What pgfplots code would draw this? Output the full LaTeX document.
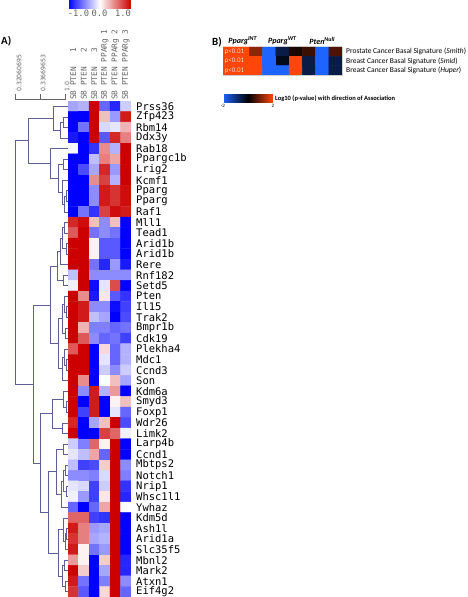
\documentclass[border=0pt]{standalone}
\usepackage{pgfplots}
\pgfplotsset{compat=1.18}
\usepackage{fontspec}
\setmainfont{Carlito}
\setmonofont{DejaVu Sans Mono}
\newfontfamily\dvs{DejaVu Sans}
\definecolor{dendro}{RGB}{95,95,145}
\definecolor{lblgray}{RGB}{100,100,100}
\begin{document}
\begin{tikzpicture}[x=1pt,y=1pt]
\useasboundingbox (0,0) rectangle (468,597);
% ---------------- dendrogram ----------------
\begin{axis}[at={(15pt,0pt)}, anchor=south west, scale only axis, width=53pt, height=496pt,
  xmin=15, xmax=68, ymin=0.5, ymax=47.5, y dir=reverse, hide axis, clip=false,
  dd/.style={dendro, line width=0.6pt, mark=none}]
\addplot[dd] coordinates {(68,2)(63,2)(63,3)(68,3)};
\addplot[dd] coordinates {(63,2.5)(60,2.5)(60,4)(68,4)};
\addplot[dd] coordinates {(68,1)(53,1)(53,3.25)(60,3.25)};
\addplot[dd] coordinates {(68,9)(66,9)(66,10)(68,10)};
\addplot[dd] coordinates {(66,9.5)(64,9.5)(64,11)(68,11)};
\addplot[dd] coordinates {(68,8)(62,8)(62,10.25)(64,10.25)};
\addplot[dd] coordinates {(68,6)(63,6)(63,7)(68,7)};
\addplot[dd] coordinates {(63,6.5)(58,6.5)(58,9.125)(62,9.125)};
\addplot[dd] coordinates {(68,5)(50,5)(50,7.81)(58,7.81)};
\addplot[dd] coordinates {(53,2.125)(28,2.125)(28,6.405)(50,6.405)};
\addplot[dd] coordinates {(68,14)(66,14)(66,15)(68,15)};
\addplot[dd] coordinates {(68,12)(64,12)(64,13)(68,13)};
\addplot[dd] coordinates {(64,12.5)(62,12.5)(62,14.5)(66,14.5)};
\addplot[dd] coordinates {(62,13.5)(60,13.5)(60,16)(68,16)};
\addplot[dd] coordinates {(68,17)(63,17)(63,18)(68,18)};
\addplot[dd] coordinates {(60,14.75)(57,14.75)(57,17.5)(63,17.5)};
\addplot[dd] coordinates {(68,20)(66,20)(66,21)(68,21)};
\addplot[dd] coordinates {(68,19)(64,19)(64,20.5)(66,20.5)};
\addplot[dd] coordinates {(68,22)(65,22)(65,23)(68,23)};
\addplot[dd] coordinates {(64,19.75)(62,19.75)(62,22.5)(65,22.5)};
\addplot[dd] coordinates {(68,25)(66,25)(66,26)(68,26)};
\addplot[dd] coordinates {(68,24)(64,24)(64,25.5)(66,25.5)};
\addplot[dd] coordinates {(64,24.75)(62,24.75)(62,27)(68,27)};
\addplot[dd] coordinates {(62,21.125)(58,21.125)(58,25.875)(62,25.875)};
\addplot[dd] coordinates {(57,16.125)(50,16.125)(50,23.5)(58,23.5)};
\addplot[dd] coordinates {(68,29)(66,29)(66,30)(68,30)};
\addplot[dd] coordinates {(68,28)(63,28)(63,29.5)(66,29.5)};
\addplot[dd] coordinates {(68,31)(62,31)(62,32)(68,32)};
\addplot[dd] coordinates {(63,28.75)(52,28.75)(52,31.5)(62,31.5)};
\addplot[dd] coordinates {(68,33)(63,33)(63,34)(68,34)};
\addplot[dd] coordinates {(68,35)(65,35)(65,36)(68,36)};
\addplot[dd] coordinates {(68,37)(66,37)(66,38)(68,38)};
\addplot[dd] coordinates {(65,35.5)(63,35.5)(63,37.5)(66,37.5)};
\addplot[dd] coordinates {(63,36.5)(61,36.5)(61,39)(68,39)};
\addplot[dd] coordinates {(63,33.5)(56,33.5)(56,37.75)(61,37.75)};
\addplot[dd] coordinates {(68,41)(66,41)(66,42)(68,42)};
\addplot[dd] coordinates {(66,41.5)(65,41.5)(65,43)(68,43)};
\addplot[dd] coordinates {(68,40)(63,40)(63,42.25)(65,42.25)};
\addplot[dd] coordinates {(68,44)(64,44)(64,45)(68,45)};
\addplot[dd] coordinates {(68,46)(65,46)(65,47)(68,47)};
\addplot[dd] coordinates {(64,44.5)(62,44.5)(62,46.5)(65,46.5)};
\addplot[dd] coordinates {(63,41.125)(58,41.125)(58,45.5)(62,45.5)};
\addplot[dd] coordinates {(56,35.625)(48,35.625)(48,43.3125)(58,43.3125)};
\addplot[dd] coordinates {(52,30.125)(40,30.125)(40,39.47)(48,39.47)};
\addplot[dd] coordinates {(50,19.8125)(33,19.8125)(33,34.8)(40,34.8)};
\addplot[dd] coordinates {(28,4.265)(15.7,4.265)(15.7,27.3)(33,27.3)};
% scale bar
\addplot[lblgray, line width=0.5pt, mark=none] coordinates {(15.7,-0.16)(15.7,0.31)(65.5,0.31)(65.5,-0.16)};
\addplot[lblgray, line width=0.5pt, mark=none] coordinates {(40.5,0.31)(40.5,-0.16)};
\node[rotate=90, anchor=west, inner sep=0pt, text=lblgray, font=\dvs\fontsize{6.2}{6}\selectfont] at (axis cs:19,-0.35) {0.32060695};
\node[rotate=90, anchor=west, inner sep=0pt, text=lblgray, font=\dvs\fontsize{6.2}{6}\selectfont] at (axis cs:43,-0.35) {0.33669653};
\node[rotate=90, anchor=west, inner sep=0pt, text=lblgray, font=\dvs\fontsize{6.2}{6}\selectfont] at (axis cs:67,-0.35) {1.0};
\end{axis}
% ---------------- heatmap A ----------------
\begin{axis}[at={(68pt,0pt)}, anchor=south west, scale only axis, width=63pt, height=496pt,
  xmin=-0.5, xmax=5.5, ymin=0.5, ymax=47.5, y dir=reverse, enlargelimits=false,
  axis line style={draw=none}, major tick length=0pt,
  colormap={rwb}{rgb255=(0,0,255) rgb255=(255,255,255) rgb255=(204,0,0)},
  point meta min=-1, point meta max=1,
  xtick={0,...,5}, xticklabel pos=upper,
  xticklabels={SB PTEN\ \ \ 1,SB PTEN\ \ \ 2,SB PTEN\ \ \ 3,SB PTEN PPARg 1,SB PTEN PPARg 2,SB PTEN PPARg 3},
  xticklabel style={rotate=90, anchor=west, font=\ttfamily\fontsize{7.8}{8}\selectfont, text=lblgray, inner sep=1pt},
  ytick={1,...,47}, yticklabel pos=right,
  yticklabels={Prss36,Zfp423,Rbm14,Ddx3y,Rab18,Ppargc1b,Lrig2,Kcmf1,Pparg,Pparg,Raf1,Mll1,Tead1,Arid1b,Arid1b,Rere,Rnf182,Setd5,Pten,Il15,Trak2,Bmpr1b,Cdk19,Plekha4,Mdc1,Ccnd3,Son,Kdm6a,Smyd3,Foxp1,Wdr26,Limk2,Larp4b,Ccnd1,Mbtps2,Notch1,Nrip1,Whsc1l1,Ywhaz,Kdm5d,Ash1l,Arid1a,Slc35f5,Mbnl2,Mark2,Atxn1,Eif4g2},
  yticklabel style={anchor=west, inner sep=0pt, xshift=5pt, font=\ttfamily\fontsize{10.5}{10.5}\selectfont},
  colorbar horizontal,
  colorbar style={at={(0,1.1855)}, anchor=south west, width=63pt, height=8pt, scale only axis,
    axis line style={draw=none}, major tick length=0pt, xtick={-0.667,0,0.746}, xticklabels={-1.0,0.0,1.0},
    xticklabel pos=lower,
    xticklabel style={font=\ttfamily\fontsize{8.8}{9}\selectfont, text=lblgray, inner sep=1pt}},
]
\addplot[matrix plot*, mesh/cols=6, point meta=explicit] coordinates {
(0,1)[-0.35] (1,1)[-0.3] (2,1)[1] (3,1)[-0.6] (4,1)[-0.85] (5,1)[-0.2]
(0,2)[-1] (1,2)[-1] (2,2)[1] (3,2)[0.25] (4,2)[-0.4] (5,2)[0.9]
(0,3)[-1] (1,3)[-0.55] (2,3)[1] (3,3)[-0.15] (4,3)[-0.1] (5,3)[0.3]
(0,4)[-0.9] (1,4)[-1] (2,4)[1] (3,4)[-0.65] (4,4)[0.85] (5,4)[0.5]
(0,5)[-0.03] (1,5)[-1] (2,5)[-0.8] (3,5)[0.45] (4,5)[-0.3] (5,5)[1]
(0,6)[-1] (1,6)[-1] (2,6)[-0.25] (3,6)[0.5] (4,6)[0.35] (5,6)[1]
(0,7)[-1] (1,7)[-0.7] (2,7)[-0.35] (3,7)[0.85] (4,7)[-0.4] (5,7)[1]
(0,8)[-1] (1,8)[-1] (2,8)[0.45] (3,8)[0.75] (4,8)[-0.3] (5,8)[1]
(0,9)[-1] (1,9)[-1] (2,9)[-0.45] (3,9)[0.9] (4,9)[0.8] (5,9)[0.95]
(0,10)[-1] (1,10)[-1] (2,10)[-0.45] (3,10)[0.9] (4,10)[0.8] (5,10)[0.95]
(0,11)[-1] (1,11)[-0.55] (2,11)[-0.8] (3,11)[0.75] (4,11)[0.95] (5,11)[0.9]
(0,12)[0.85] (1,12)[0.95] (2,12)[0.25] (3,12)[-0.45] (4,12)[0.25] (5,12)[-1]
(0,13)[0.65] (1,13)[1] (2,13)[-0.55] (3,13)[-0.45] (4,13)[-0.55] (5,13)[-1]
(0,14)[1] (1,14)[1] (2,14)[0.05] (3,14)[-0.65] (4,14)[-0.65] (5,14)[-1]
(0,15)[1] (1,15)[1] (2,15)[0.05] (3,15)[-0.65] (4,15)[-0.65] (5,15)[-1]
(0,16)[1] (1,16)[1] (2,16)[-0.55] (3,16)[-0.85] (4,16)[-0.4] (5,16)[-0.9]
(0,17)[-0.25] (1,17)[1] (2,17)[-0.45] (3,17)[-0.45] (4,17)[-0.45] (5,17)[-0.45]
(0,18)[-0.05] (1,18)[1] (2,18)[-0.95] (3,18)[-0.1] (4,18)[0.7] (5,18)[-1]
(0,19)[1] (1,19)[0.45] (2,19)[-0.9] (3,19)[0.1] (4,19)[-0.65] (5,19)[-0.8]
(0,20)[1] (1,20)[0.9] (2,20)[-0.45] (3,20)[-0.45] (4,20)[-0.95] (5,20)[-0.75]
(0,21)[1] (1,21)[0.9] (2,21)[-0.25] (3,21)[-0.35] (4,21)[-1] (5,21)[-0.7]
(0,22)[1] (1,22)[0.3] (2,22)[-0.5] (3,22)[-0.5] (4,22)[-0.6] (5,22)[-0.55]
(0,23)[1] (1,23)[0.65] (2,23)[-0.45] (3,23)[-0.6] (4,23)[-0.55] (5,23)[-0.75]
(0,24)[0.65] (1,24)[1] (2,24)[-1] (3,24)[0.15] (4,24)[-0.6] (5,24)[-0.3]
(0,25)[1] (1,25)[1] (2,25)[-1] (3,25)[-0.1] (4,25)[-0.6] (5,25)[-0.3]
(0,26)[1] (1,26)[1] (2,26)[-1] (3,26)[-0.2] (4,26)[-0.45] (5,26)[-0.2]
(0,27)[1] (1,27)[0.45] (2,27)[-1] (3,27)[0] (4,27)[0.25] (5,27)[-0.35]
(0,28)[1] (1,28)[-0.45] (2,28)[0.9] (3,28)[-0.3] (4,28)[0.4] (5,28)[-1]
(0,29)[1] (1,29)[-1] (2,29)[0.9] (3,29)[-1] (4,29)[0.05] (5,29)[0.25]
(0,30)[1] (1,30)[-0.75] (2,30)[0.9] (3,30)[-1] (4,30)[-0.1] (5,30)[-0.6]
(0,31)[0.85] (1,31)[-1] (2,31)[-0.35] (3,31)[0.25] (4,31)[1] (5,31)[-0.7]
(0,32)[1] (1,32)[-1] (2,32)[-1] (3,32)[0.75] (4,32)[0.6] (5,32)[-0.05]
(0,33)[-0.2] (1,33)[-0.5] (2,33)[0.6] (3,33)[0.05] (4,33)[1] (5,33)[-1]
(0,34)[-0.1] (1,34)[-0.25] (2,34)[0.35] (3,34)[-0.6] (4,34)[1] (5,34)[-1]
(0,35)[-0.25] (1,35)[-0.75] (2,35)[-0.7] (3,35)[0.2] (4,35)[1] (5,35)[-0.45]
(0,36)[-0.45] (1,36)[-0.45] (2,36)[-0.5] (3,36)[-0.15] (4,36)[1] (5,36)[-0.5]
(0,37)[-0.1] (1,37)[-0.15] (2,37)[-0.75] (3,37)[-0.2] (4,37)[1] (5,37)[-0.8]
(0,38)[-0.05] (1,38)[-0.4] (2,38)[-0.75] (3,38)[0.1] (4,38)[1] (5,38)[-0.85]
(0,39)[-0.6] (1,39)[-1] (2,39)[-0.6] (3,39)[0.35] (4,39)[1] (5,39)[0]
(0,40)[0.6] (1,40)[0.6] (2,40)[-0.75] (3,40)[-0.8] (4,40)[1] (5,40)[-1]
(0,41)[0.9] (1,41)[0.5] (2,41)[-0.4] (3,41)[-0.35] (4,41)[1] (5,41)[-1]
(0,42)[0.8] (1,42)[0.5] (2,42)[-0.35] (3,42)[-0.3] (4,42)[1] (5,42)[-1]
(0,43)[0.9] (1,43)[0.05] (2,43)[-0.55] (3,43)[-0.4] (4,43)[1] (5,43)[-1]
(0,44)[0.4] (1,44)[0.05] (2,44)[-1] (3,44)[0.2] (4,44)[1] (5,44)[-0.85]
(0,45)[1] (1,45)[0.2] (2,45)[-1] (3,45)[-0.35] (4,45)[1] (5,45)[-0.85]
(0,46)[0.9] (1,46)[-0.55] (2,46)[-1] (3,46)[-0.5] (4,46)[1] (5,46)[-0.45]
(0,47)[0.8] (1,47)[-0.65] (2,47)[-1] (3,47)[0.15] (4,47)[1] (5,47)[-0.6]
};
\end{axis}
% ---------------- heatmap B ----------------
\begin{axis}[at={(223pt,522pt)}, anchor=south west, scale only axis, width=119pt, height=28pt,
  xmin=-0.5, xmax=8.5, ymin=0.5, ymax=3.5, y dir=reverse, enlargelimits=false,
  axis line style={black!20, line width=0.4pt}, major tick length=0pt,
  colormap={bbo}{rgb255=(30,100,255) rgb255=(0,0,0) rgb255=(255,70,10)},
  point meta min=-2, point meta max=2,
  xtick={1,4,7}, xticklabel pos=upper,
  xticklabels={{\textbf{\textit{Pparg}}\textsuperscript{\textbf{\textit{INT}}}},{\textbf{\textit{Pparg}}\textsuperscript{\textbf{\textit{WT}}}},{\textbf{\textit{Pten}}\textsuperscript{\textbf{\textit{Null}}}}},
  xticklabel style={font=\fontsize{8}{8}\selectfont, inner sep=1pt, yshift=1pt},
  ytick={1,2,3}, yticklabel pos=right,
  yticklabels={{Prostate Cancer Basal Signature (\textit{Smith})},{Breast Cancer Basal Signature (\textit{Smid})},{Breast Cancer Basal Signature (\textit{Huper})}},
  yticklabel style={anchor=west, inner sep=0pt, xshift=4pt, font=\fontsize{7.5}{7.5}\selectfont},
  colorbar horizontal,
  colorbar style={at={(0,-0.714)}, anchor=north west, width=50pt, height=8pt, scale only axis,
    axis line style={draw=none}, major tick length=0pt, xtick={-2,2}, xticklabels={-2,2},
    xticklabel pos=lower,
    xticklabel style={font=\fontsize{5}{5}\selectfont, inner sep=1.5pt}},
]
\addplot[matrix plot*, mesh/cols=9, point meta=explicit] coordinates {
(0,1)[2] (1,1)[2] (2,1)[1.1] (3,1)[-2] (4,1)[-0.55] (5,1)[0.2] (6,1)[0.45] (7,1)[-2] (8,1)[0.6]
(0,2)[2] (1,2)[2] (2,2)[2] (3,2)[-2] (4,2)[-0.2] (5,2)[2] (6,2)[-0.55] (7,2)[-2] (8,2)[-0.55]
(0,3)[2] (1,3)[2] (2,3)[2] (3,3)[-2] (4,3)[-2] (5,3)[2] (6,3)[-0.55] (7,3)[-2] (8,3)[-0.55]
};
\node[anchor=west, inner sep=1.5pt, text={rgb,255:red,255;green,215;blue,200}, font=\fontsize{7}{7}\selectfont] at (axis cs:-0.5,1) {p<0.01};
\node[anchor=west, inner sep=1.5pt, text={rgb,255:red,255;green,215;blue,200}, font=\fontsize{7}{7}\selectfont] at (axis cs:-0.5,2) {p<0.01};
\node[anchor=west, inner sep=1.5pt, text={rgb,255:red,255;green,215;blue,200}, font=\fontsize{7}{7}\selectfont] at (axis cs:-0.5,3) {p<0.01};
\end{axis}
\node[anchor=west, inner sep=0pt, font=\bfseries\fontsize{6.5}{7}\selectfont] at (275,498) {Log10 (p-value) with direction of Association};
\node[anchor=west, inner sep=0pt, font=\bfseries\fontsize{11}{11}\selectfont] at (1,556) {A)};
\node[anchor=west, inner sep=0pt, font=\bfseries\fontsize{11}{11}\selectfont] at (212,555) {B)};
\end{tikzpicture}
\end{document}
